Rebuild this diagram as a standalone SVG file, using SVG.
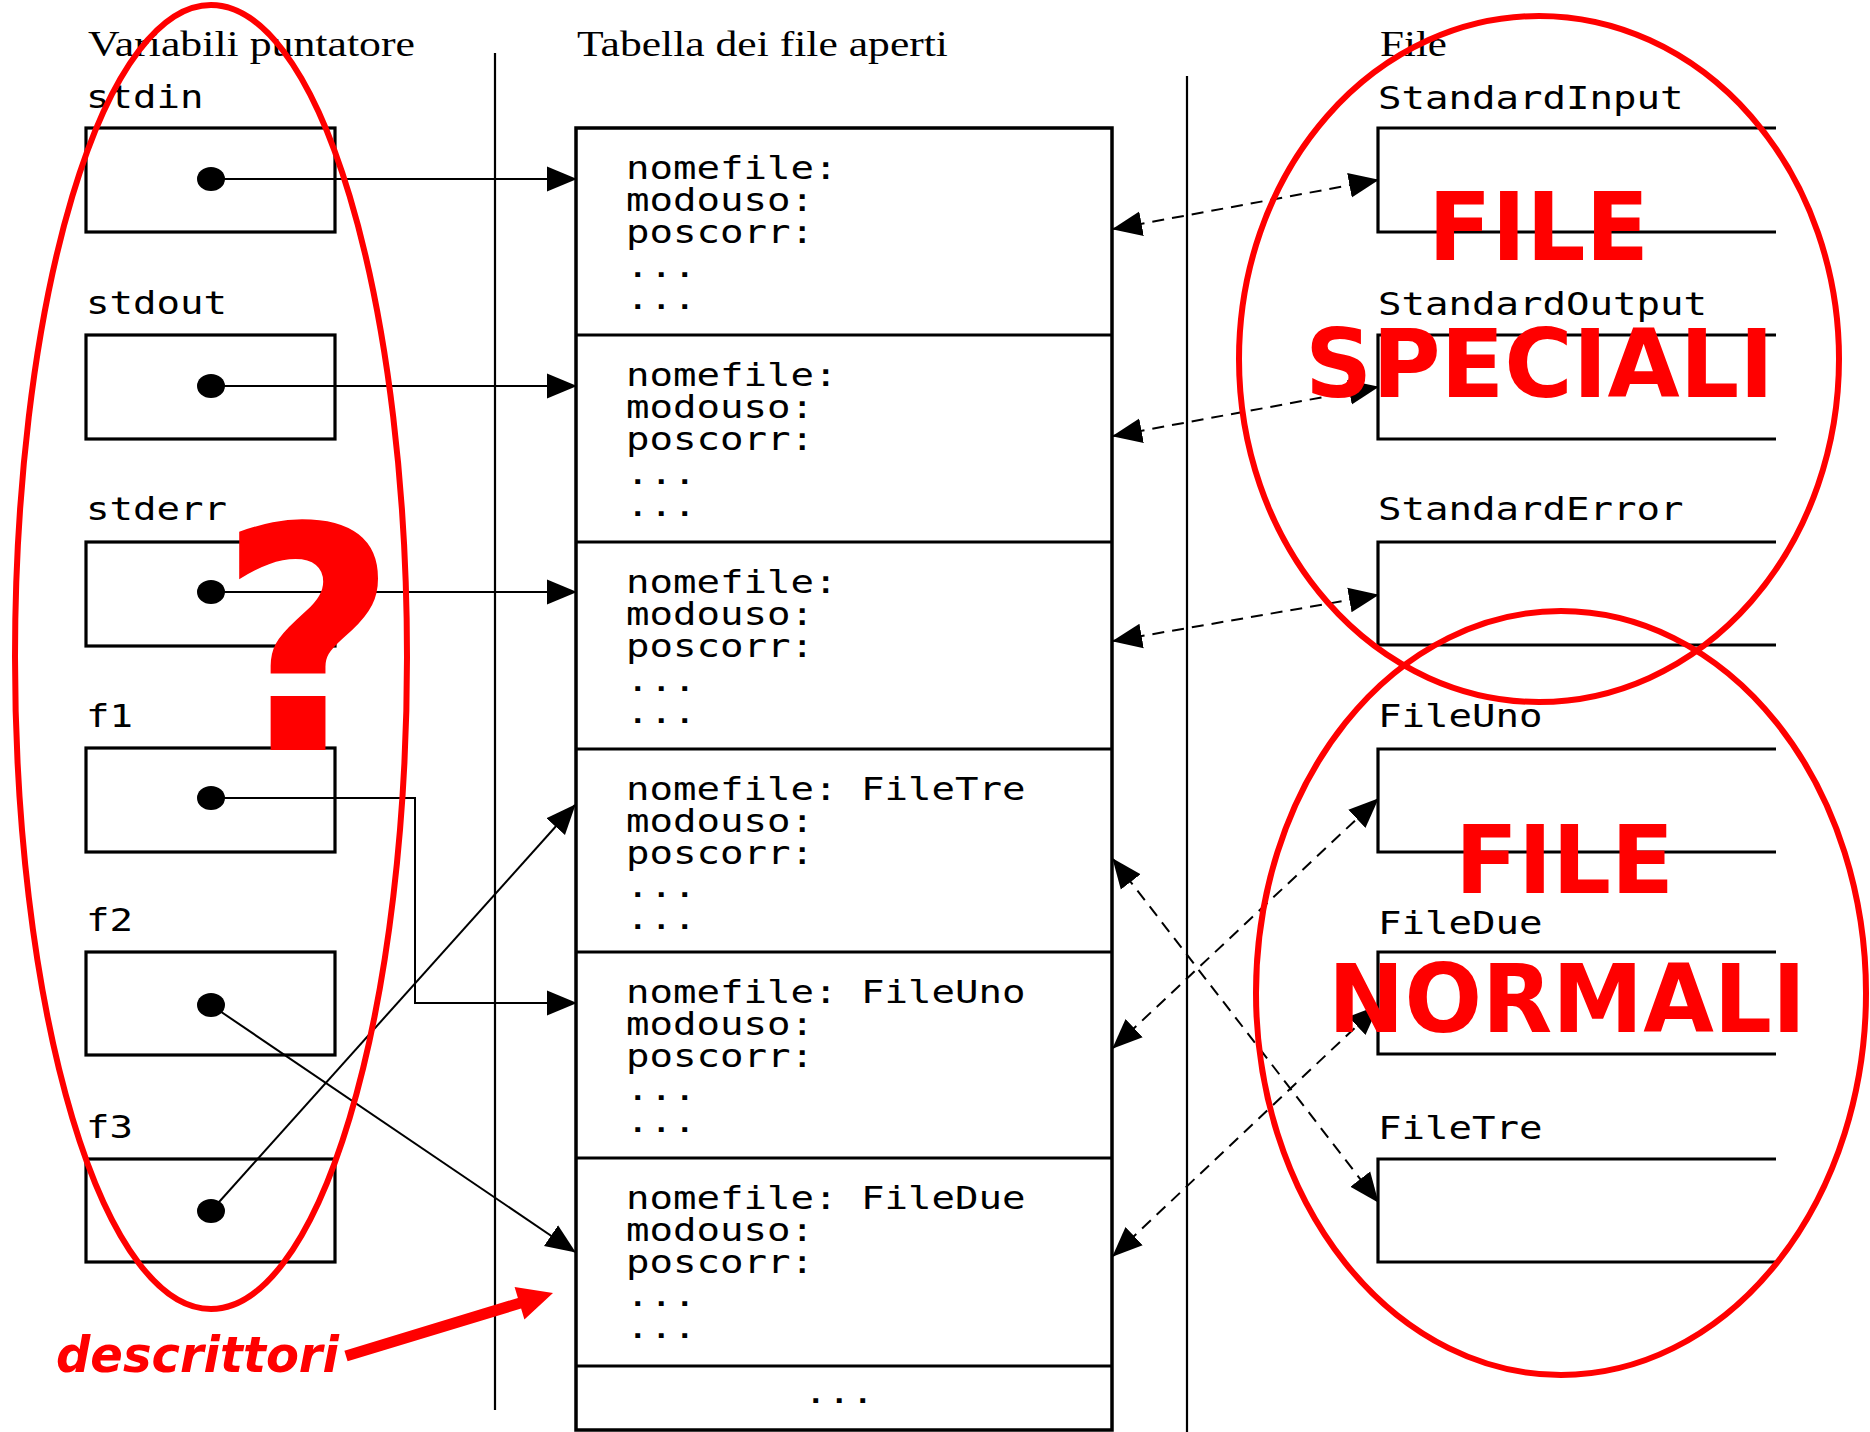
<svg xmlns="http://www.w3.org/2000/svg" width="1870" height="1432" viewBox="0 0 1870 1432">
<style>
.bg{fill:#fff}
.hdr{font-family:"Liberation Serif","Times New Roman",serif;font-size:36px;fill:#000}
.mono{font-family:"DejaVu Sans Mono","Liberation Mono",monospace;font-size:32px;fill:#000}
.box{fill:none;stroke:#000;stroke-width:3.2}
.tbl{fill:none;stroke:#000;stroke-width:3.5}
.sep{stroke:#000;stroke-width:3.2}
.vl{stroke:#000;stroke-width:2.2}
.dot{fill:#000}
.conn{fill:none;stroke:#000;stroke-width:2;marker-end:url(#ah)}
.dash{fill:none;stroke:#000;stroke-width:2;stroke-dasharray:12 8;marker-start:url(#ah);marker-end:url(#ah)}
.red{fill:none;stroke:#ff0000;stroke-width:6}
.big{font-family:"DejaVu Sans",Verdana,sans-serif;font-weight:bold;fill:#ff0000}
</style>
<defs>
<marker id="ah" markerUnits="userSpaceOnUse" markerWidth="30" markerHeight="26" refX="29" refY="12.5" orient="auto-start-reverse" viewBox="0 0 30 25">
<path d="M0,0 L30,12.5 L0,25 z" fill="#000" stroke="none"/>
</marker>
</defs>
<rect class="bg" x="0" y="0" width="1870" height="1432"/>

<g id="headers">
<text class="hdr" x="88" y="56" textLength="327" lengthAdjust="spacingAndGlyphs">Variabili puntatore</text>
<text class="hdr" x="577" y="56" textLength="371" lengthAdjust="spacingAndGlyphs">Tabella dei file aperti</text>
<text class="hdr" x="1380" y="56" textLength="67" lengthAdjust="spacingAndGlyphs">File</text>
<line class="vl" x1="495" y1="53" x2="495" y2="1410"/>
<line class="vl" x1="1187" y1="76" x2="1187" y2="1432"/>
</g>

<g id="var-stdin">
<text class="mono" x="86" y="108" textLength="117.5" lengthAdjust="spacingAndGlyphs">stdin</text>
<rect class="box" x="86" y="128" width="249" height="104"/>
<ellipse class="dot" cx="211" cy="179" rx="14" ry="12"/>
</g>
<g id="var-stdout">
<text class="mono" x="86" y="314" textLength="141" lengthAdjust="spacingAndGlyphs">stdout</text>
<rect class="box" x="86" y="335" width="249" height="104"/>
<ellipse class="dot" cx="211" cy="386" rx="14" ry="12"/>
</g>
<g id="var-stderr">
<text class="mono" x="86" y="520" textLength="141" lengthAdjust="spacingAndGlyphs">stderr</text>
<rect class="box" x="86" y="542" width="249" height="104"/>
<ellipse class="dot" cx="211" cy="592" rx="14" ry="12"/>
</g>
<g id="var-f1">
<text class="mono" x="86" y="727" textLength="47" lengthAdjust="spacingAndGlyphs">f1</text>
<rect class="box" x="86" y="748" width="249" height="104"/>
<ellipse class="dot" cx="211" cy="798" rx="14" ry="12"/>
</g>
<g id="var-f2">
<text class="mono" x="86" y="931" textLength="47" lengthAdjust="spacingAndGlyphs">f2</text>
<rect class="box" x="86" y="952" width="249" height="103"/>
<ellipse class="dot" cx="211" cy="1005" rx="14" ry="12"/>
</g>
<g id="var-f3">
<text class="mono" x="86" y="1138" textLength="47" lengthAdjust="spacingAndGlyphs">f3</text>
<rect class="box" x="86" y="1159" width="249" height="103"/>
<ellipse class="dot" cx="211" cy="1211" rx="14" ry="12"/>
</g>

<g id="table">
<rect class="tbl" x="576" y="128" width="536" height="1302"/>
<line class="sep" x1="576" y1="335" x2="1112" y2="335"/>
<line class="sep" x1="576" y1="542" x2="1112" y2="542"/>
<line class="sep" x1="576" y1="749" x2="1112" y2="749"/>
<line class="sep" x1="576" y1="952" x2="1112" y2="952"/>
<line class="sep" x1="576" y1="1158" x2="1112" y2="1158"/>
<line class="sep" x1="576" y1="1366" x2="1112" y2="1366"/>
</g>
<g id="row1">
<text class="mono" x="626" y="179" textLength="211.5" lengthAdjust="spacingAndGlyphs">nomefile:</text>
<text class="mono" x="626" y="211" textLength="188" lengthAdjust="spacingAndGlyphs">modouso:</text>
<text class="mono" x="626" y="243" textLength="188" lengthAdjust="spacingAndGlyphs">poscorr:</text>
<text class="mono" x="626" y="277" textLength="70.5" lengthAdjust="spacingAndGlyphs">...</text>
<text class="mono" x="626" y="309" textLength="70.5" lengthAdjust="spacingAndGlyphs">...</text>
</g>
<g id="row2">
<text class="mono" x="626" y="386" textLength="211.5" lengthAdjust="spacingAndGlyphs">nomefile:</text>
<text class="mono" x="626" y="418" textLength="188" lengthAdjust="spacingAndGlyphs">modouso:</text>
<text class="mono" x="626" y="450" textLength="188" lengthAdjust="spacingAndGlyphs">poscorr:</text>
<text class="mono" x="626" y="484" textLength="70.5" lengthAdjust="spacingAndGlyphs">...</text>
<text class="mono" x="626" y="516" textLength="70.5" lengthAdjust="spacingAndGlyphs">...</text>
</g>
<g id="row3">
<text class="mono" x="626" y="593" textLength="211.5" lengthAdjust="spacingAndGlyphs">nomefile:</text>
<text class="mono" x="626" y="625" textLength="188" lengthAdjust="spacingAndGlyphs">modouso:</text>
<text class="mono" x="626" y="657" textLength="188" lengthAdjust="spacingAndGlyphs">poscorr:</text>
<text class="mono" x="626" y="691" textLength="70.5" lengthAdjust="spacingAndGlyphs">...</text>
<text class="mono" x="626" y="723" textLength="70.5" lengthAdjust="spacingAndGlyphs">...</text>
</g>
<g id="row4">
<text class="mono" x="626" y="800" textLength="399.5" lengthAdjust="spacingAndGlyphs">nomefile: FileTre</text>
<text class="mono" x="626" y="832" textLength="188" lengthAdjust="spacingAndGlyphs">modouso:</text>
<text class="mono" x="626" y="864" textLength="188" lengthAdjust="spacingAndGlyphs">poscorr:</text>
<text class="mono" x="626" y="897" textLength="70.5" lengthAdjust="spacingAndGlyphs">...</text>
<text class="mono" x="626" y="929" textLength="70.5" lengthAdjust="spacingAndGlyphs">...</text>
</g>
<g id="row5">
<text class="mono" x="626" y="1003" textLength="399.5" lengthAdjust="spacingAndGlyphs">nomefile: FileUno</text>
<text class="mono" x="626" y="1035" textLength="188" lengthAdjust="spacingAndGlyphs">modouso:</text>
<text class="mono" x="626" y="1067" textLength="188" lengthAdjust="spacingAndGlyphs">poscorr:</text>
<text class="mono" x="626" y="1100" textLength="70.5" lengthAdjust="spacingAndGlyphs">...</text>
<text class="mono" x="626" y="1132" textLength="70.5" lengthAdjust="spacingAndGlyphs">...</text>
</g>
<g id="row6">
<text class="mono" x="626" y="1209" textLength="399.5" lengthAdjust="spacingAndGlyphs">nomefile: FileDue</text>
<text class="mono" x="626" y="1241" textLength="188" lengthAdjust="spacingAndGlyphs">modouso:</text>
<text class="mono" x="626" y="1273" textLength="188" lengthAdjust="spacingAndGlyphs">poscorr:</text>
<text class="mono" x="626" y="1306" textLength="70.5" lengthAdjust="spacingAndGlyphs">...</text>
<text class="mono" x="626" y="1338" textLength="70.5" lengthAdjust="spacingAndGlyphs">...</text>
</g>
<g id="row7">
<text class="mono" x="804" y="1403" textLength="70.5" lengthAdjust="spacingAndGlyphs">...</text>
</g>

<g id="file-StandardInput">
<text class="mono" x="1378" y="109" textLength="305.5" lengthAdjust="spacingAndGlyphs">StandardInput</text>
<path class="box" d="M1776,128 H1378 V232 H1776"/>
</g>
<g id="file-StandardOutput">
<text class="mono" x="1378" y="315" textLength="329" lengthAdjust="spacingAndGlyphs">StandardOutput</text>
<path class="box" d="M1776,335 H1378 V439 H1776"/>
</g>
<g id="file-StandardError">
<text class="mono" x="1378" y="520" textLength="305.5" lengthAdjust="spacingAndGlyphs">StandardError</text>
<path class="box" d="M1776,542 H1378 V645 H1776"/>
</g>
<g id="file-FileUno">
<text class="mono" x="1378" y="727" textLength="164.5" lengthAdjust="spacingAndGlyphs">FileUno</text>
<path class="box" d="M1776,749 H1378 V852 H1776"/>
</g>
<g id="file-FileDue">
<text class="mono" x="1378" y="934" textLength="164.5" lengthAdjust="spacingAndGlyphs">FileDue</text>
<path class="box" d="M1776,952 H1378 V1054 H1776"/>
</g>
<g id="file-FileTre">
<text class="mono" x="1378" y="1139" textLength="164.5" lengthAdjust="spacingAndGlyphs">FileTre</text>
<path class="box" d="M1776,1159 H1378 V1262 H1776"/>
</g>

<g id="connectors">
<path class="conn" d="M211,179 H576"/>
<path class="conn" d="M211,386 H576"/>
<path class="conn" d="M211,592 H576"/>
<path class="conn" d="M211,798 H415 V1003 H576"/>
<path class="conn" d="M211,1005 L575,1252"/>
<path class="conn" d="M211,1211 L575,805"/>
<path class="dash" d="M1113,229 L1378,180"/>
<path class="dash" d="M1113,436 L1378,387"/>
<path class="dash" d="M1113,641 L1378,595"/>
<path class="dash" d="M1113,859 L1378,1202"/>
<path class="dash" d="M1113,1048 L1378,799"/>
<path class="dash" d="M1113,1256 L1378,1006"/>
</g>

<g id="annotations">
<ellipse class="red" cx="211" cy="657" rx="196" ry="652"/>
<ellipse class="red" cx="1539" cy="359" rx="300" ry="343"/>
<ellipse class="red" cx="1561" cy="993" rx="305" ry="382"/>
<text class="big" x="1428" y="260" font-size="95" textLength="221" lengthAdjust="spacingAndGlyphs">FILE</text>
<text class="big" x="1305" y="397" font-size="95" textLength="469" lengthAdjust="spacingAndGlyphs">SPECIALI</text>
<text class="big" x="1455" y="893" font-size="95" textLength="219" lengthAdjust="spacingAndGlyphs">FILE</text>
<text class="big" x="1328" y="1032" font-size="95" textLength="478" lengthAdjust="spacingAndGlyphs">NORMALI</text>
<text class="big" x="308" y="750" font-size="311" text-anchor="middle">?</text>
<text class="big" x="56" y="1372" font-size="50" font-style="italic" textLength="283" lengthAdjust="spacingAndGlyphs">descrittori</text>
<polygon fill="#ff0000" points="344.4,1350.7 517.9,1297.9 514.6,1286.9 553,1293 524.4,1319.5 521.1,1308.5 347.6,1361.3"/>
</g>
</svg>
